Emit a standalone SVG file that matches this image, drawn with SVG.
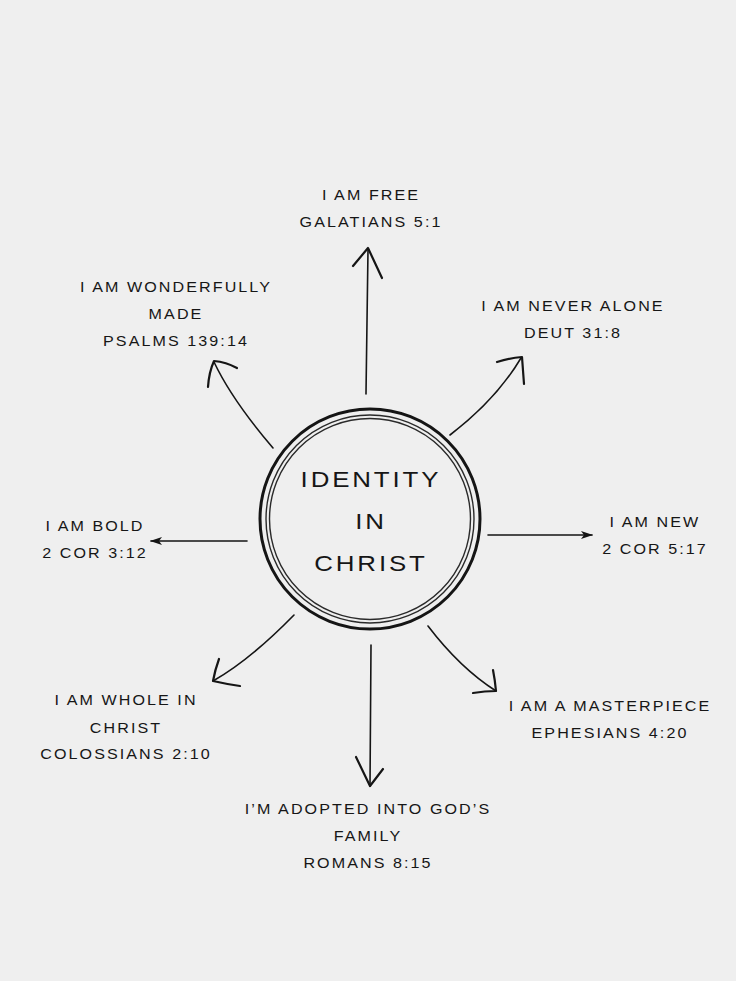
<svg xmlns="http://www.w3.org/2000/svg" width="736" height="981" viewBox="0 0 736 981">
<style>
.lbl{font-family:"Liberation Sans",Arial,sans-serif;font-size:14px;letter-spacing:1.8px;fill:#161616;text-anchor:middle}
.ttl{font-family:"Liberation Sans",Arial,sans-serif;font-size:22.5px;letter-spacing:2.5px;fill:#161616;text-anchor:middle}
.ln{fill:none;stroke:#151515;stroke-width:1.6;stroke-linecap:round;stroke-linejoin:round}
.hd{fill:none;stroke:#151515;stroke-width:2.2;stroke-linecap:round;stroke-linejoin:round}
</style>
<defs>
<marker id="tri" viewBox="0 0 12 8" refX="11" refY="4" markerWidth="12" markerHeight="8" markerUnits="userSpaceOnUse" orient="auto">
<path d="M0,0 L12,4 L0,8 L3,4 Z" fill="#151515"/>
</marker>
</defs>
<rect width="736" height="981" fill="#efefef"/>
<g id="center">
<circle cx="370" cy="519" r="110" fill="none" stroke="#151515" stroke-width="3"/>
<circle cx="370" cy="519" r="104" fill="none" stroke="#2a2a2a" stroke-width="1.4"/>
<circle cx="370" cy="519" r="100.5" fill="none" stroke="#2a2a2a" stroke-width="1.4"/>
<text class="ttl" transform="translate(371 487) scale(1.15 1)">IDENTITY</text>
<text class="ttl" transform="translate(371 529) scale(1.15 1)">IN</text>
<text class="ttl" transform="translate(371 571) scale(1.15 1)">CHRIST</text>
</g>
<g id="connectors">
<path class="ln" d="M366,394 L368,250"/>
<path class="hd" d="M353,266 L368,248 L382,278"/>
<path class="ln" d="M273,448 Q232,400 214,362"/>
<path class="hd" d="M208,387 Q209,372 214,361 Q226,362 237,368"/>
<path class="ln" d="M450,435 Q496,400 521,358"/>
<path class="hd" d="M497,362 Q510,358 522,357 Q523,370 524,384"/>
<path class="ln" d="M247,541 L151,541" marker-end="url(#tri)"/>
<path class="ln" d="M488,535 L592,535" marker-end="url(#tri)"/>
<path class="ln" d="M294,615 Q250,660 213,681"/>
<path class="hd" d="M219,659 Q215,670 213,681 Q226,684 240,686"/>
<path class="ln" d="M371,645 L370,786"/>
<path class="hd" d="M356,757 L370,786 L383,769"/>
<path class="ln" d="M428,626 Q460,668 496,691"/>
<path class="hd" d="M473,693 Q485,691 496,691 Q495,680 493,670"/>
</g>
<g id="n-free"><text class="lbl" transform="translate(371 200) scale(1.15 1)">I AM FREE</text><text class="lbl" transform="translate(371 227) scale(1.15 1)">GALATIANS 5:1</text></g>
<g id="n-wonderful"><text class="lbl" transform="translate(176 292) scale(1.15 1)">I AM WONDERFULLY</text><text class="lbl" transform="translate(176 319) scale(1.15 1)">MADE</text><text class="lbl" transform="translate(176 346) scale(1.15 1)">PSALMS 139:14</text></g>
<g id="n-alone"><text class="lbl" transform="translate(573 311) scale(1.15 1)">I AM NEVER ALONE</text><text class="lbl" transform="translate(573 338) scale(1.15 1)">DEUT 31:8</text></g>
<g id="n-bold"><text class="lbl" transform="translate(95 531) scale(1.15 1)">I AM BOLD</text><text class="lbl" transform="translate(95 558) scale(1.15 1)">2 COR 3:12</text></g>
<g id="n-new"><text class="lbl" transform="translate(655 527) scale(1.15 1)">I AM NEW</text><text class="lbl" transform="translate(655 554) scale(1.15 1)">2 COR 5:17</text></g>
<g id="n-whole"><text class="lbl" transform="translate(126 705) scale(1.15 1)">I AM WHOLE IN</text><text class="lbl" transform="translate(126 733) scale(1.15 1)">CHRIST</text><text class="lbl" transform="translate(126 759) scale(1.15 1)">COLOSSIANS 2:10</text></g>
<g id="n-masterpiece"><text class="lbl" transform="translate(610 711) scale(1.15 1)">I AM A MASTERPIECE</text><text class="lbl" transform="translate(610 738) scale(1.15 1)">EPHESIANS 4:20</text></g>
<g id="n-adopted"><text class="lbl" transform="translate(368 814) scale(1.15 1)">I’M ADOPTED INTO GOD’S</text><text class="lbl" transform="translate(368 841) scale(1.15 1)">FAMILY</text><text class="lbl" transform="translate(368 868) scale(1.15 1)">ROMANS 8:15</text></g>
</svg>
